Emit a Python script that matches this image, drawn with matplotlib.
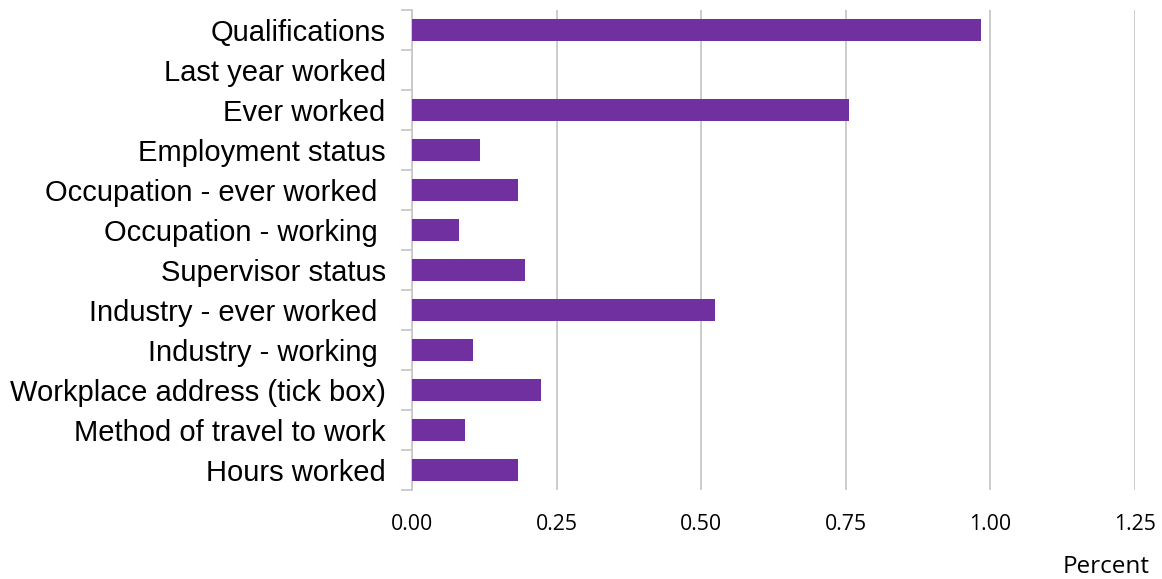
import numpy as np
import matplotlib.pyplot as plt

categories = ["Qualifications", "Last year worked", "Ever worked", "Employment status",
              "Occupation - ever worked ", "Occupation - working ", "Supervisor status",
              "Industry - ever worked ", "Industry - working ", "Workplace address (tick box)",
              "Method of travel to work", "Hours worked"]
values = [0.984, 0.0, 0.755, 0.118, 0.183, 0.081, 0.195, 0.524, 0.105, 0.223, 0.092, 0.183]
xticks = [0.0, 0.25, 0.5, 0.75, 1.0, 1.25]

fig = plt.figure(figsize=(11.62, 5.79), dpi=100)
ax = fig.add_axes([0.3546, 0.1537, 0.6222, 0.829])

y = np.arange(len(categories))
ax.barh(y, values, height=0.55, color="#7030A0", linewidth=0, zorder=3)

ax.set_xlim(0, 1.25)
ax.set_ylim(len(categories) - 0.5, -0.5)
ax.set_xticks(xticks)
ax.set_xticklabels([f"{t:.2f}" for t in xticks], fontfamily="Open Sans", fontsize=15.3)
ax.tick_params(axis="x", length=0, pad=17)
ax.grid(axis="x", color="#c8c8c8", linewidth=1.3, zorder=0)

ax.set_yticks(y)
ax.set_yticklabels(categories, fontfamily="Liberation Sans", fontsize=21)
ax.tick_params(axis="y", which="major", length=0, pad=19)
ax.set_yticks(np.arange(len(categories) + 1) - 0.5, minor=True)
ax.tick_params(axis="y", which="minor", length=8, color="#c8c8c8", width=1.3)

for s in ["top", "right", "bottom"]:
    ax.spines[s].set_visible(False)
ax.spines["left"].set_color("#c8c8c8")
ax.spines["left"].set_linewidth(1.3)

fig.text(0.9897, 0.0207, "Percent", ha="right", va="center", fontfamily="Open Sans", fontsize=17.5)

fig.savefig("out.png", dpi=100)
